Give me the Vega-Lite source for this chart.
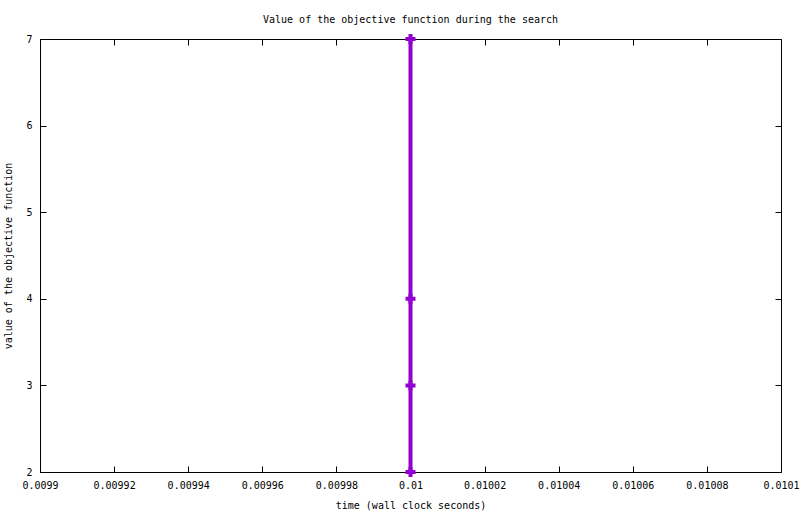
{
  "$schema": "https://vega.github.io/schema/vega-lite/v6.json",
  "width": 741,
  "height": 433,
  "autosize": {"type": "none"},
  "padding": {"left": 40, "top": 39, "right": 19, "bottom": 42},
  "background": "white",
  "title": {
    "text": "Value of the objective function during the search",
    "font": "DejaVu Sans Mono",
    "fontSize": 10,
    "fontWeight": "normal",
    "color": "black",
    "anchor": "middle",
    "offset": 6
  },
  "config": {
    "view": {"stroke": "black", "strokeWidth": 1},
    "axis": {
      "domain": false,
      "grid": false,
      "tickSize": -6,
      "tickColor": "black",
      "tickWidth": 1,
      "labelFont": "DejaVu Sans Mono",
      "labelFontSize": 10,
      "labelColor": "black",
      "titleFont": "DejaVu Sans Mono",
      "titleFontSize": 10,
      "titleFontWeight": "normal",
      "titleColor": "black"
    }
  },
  "data": {
    "values": [
      {"time": 0.01, "value": 7},
      {"time": 0.01, "value": 4},
      {"time": 0.01, "value": 3},
      {"time": 0.01, "value": 2}
    ]
  },
  "layer": [
    {
      "mark": {"type": "line", "color": "#9400D3", "strokeWidth": 4},
      "encoding": {
        "x": {
          "field": "time",
          "type": "quantitative",
          "scale": {"domain": [0.0099, 0.0101], "nice": false, "zero": false},
          "axis": {
            "orient": "bottom",
            "title": "time (wall clock seconds)",
            "values": [0.0099, 0.00992, 0.00994, 0.00996, 0.00998, 0.01, 0.01002, 0.01004, 0.01006, 0.01008, 0.0101],
            "format": ".6~g",
            "labelPadding": 14,
            "labelOverlap": false,
            "labelFlush": false,
            "titlePadding": 10
          }
        },
        "y": {
          "field": "value",
          "type": "quantitative",
          "scale": {"domain": [2, 7], "nice": false, "zero": false},
          "axis": {
            "orient": "left",
            "title": "value of the objective function",
            "values": [2, 3, 4, 5, 6, 7],
            "labelPadding": 14,
            "titlePadding": 12
          }
        }
      }
    },
    {
      "mark": {
        "type": "point",
        "shape": "M-1,-0.4H1V0.4H-1Z M-0.4,-1H0.4V1H-0.4Z",
        "size": 100,
        "filled": true,
        "color": "#9400D3",
        "opacity": 1
      },
      "encoding": {
        "x": {
          "field": "time",
          "type": "quantitative",
          "scale": {"domain": [0.0099, 0.0101], "nice": false, "zero": false},
          "axis": {
            "orient": "top",
            "title": null,
            "labels": false,
            "values": [0.0099, 0.00992, 0.00994, 0.00996, 0.00998, 0.01, 0.01002, 0.01004, 0.01006, 0.01008, 0.0101]
          }
        },
        "y": {
          "field": "value",
          "type": "quantitative",
          "scale": {"domain": [2, 7], "nice": false, "zero": false},
          "axis": {
            "orient": "right",
            "title": null,
            "labels": false,
            "values": [2, 3, 4, 5, 6, 7]
          }
        }
      }
    }
  ],
  "resolve": {"axis": {"x": "independent", "y": "independent"}}
}
